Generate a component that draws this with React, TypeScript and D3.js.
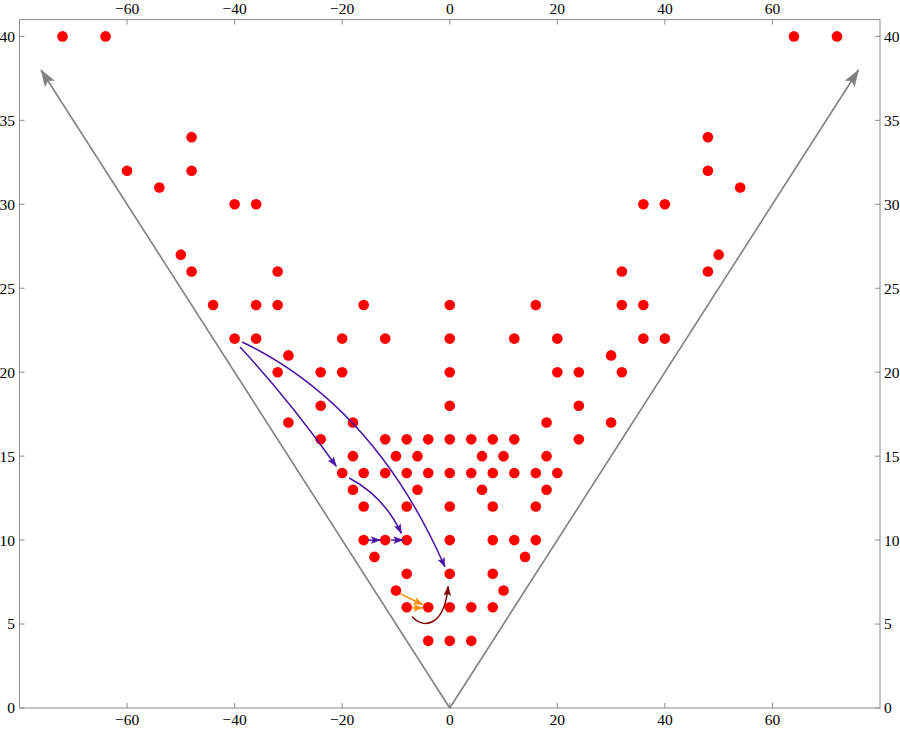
import React, { useEffect, useRef } from "react";
import * as d3 from "d3";

// lattice points, grouped by row (y) with their x values
const rows = [
  { y: 40, xs: [-72, -64, 64, 72] },
  { y: 34, xs: [-48, 48] },
  { y: 32, xs: [-60, -48, 48] },
  { y: 31, xs: [-54, 54] },
  { y: 30, xs: [-40, -36, 36, 40] },
  { y: 27, xs: [-50, 50] },
  { y: 26, xs: [-48, -32, 32, 48] },
  { y: 24, xs: [-44, -36, -32, -16, 0, 16, 32, 36] },
  { y: 22, xs: [-40, -36, -20, -12, 0, 12, 20, 36, 40] },
  { y: 21, xs: [-30, 30] },
  { y: 20, xs: [-32, -24, -20, 0, 20, 24, 32] },
  { y: 18, xs: [-24, 0, 24] },
  { y: 17, xs: [-30, -18, 18, 30] },
  { y: 16, xs: [-24, -12, -8, -4, 0, 4, 8, 12, 24] },
  { y: 15, xs: [-18, -10, -6, 6, 10, 18] },
  { y: 14, xs: [-20, -16, -12, -8, -4, 0, 4, 8, 12, 16, 20] },
  { y: 13, xs: [-18, -6, 6, 18] },
  { y: 12, xs: [-16, -8, 0, 8, 16] },
  { y: 10, xs: [-16, -12, -8, 0, 8, 12, 16] },
  { y: 9, xs: [-14, 14] },
  { y: 8, xs: [-8, 0, 8] },
  { y: 7, xs: [-10, 10] },
  { y: 6, xs: [-8, -4, 0, 4, 8] },
  { y: 4, xs: [-4, 0, 4] },
];

// the two cone edges
const coneArrows = [
  { from: [0, 0], to: [-76, 38] },
  { from: [0, 0], to: [76, 38] },
];

// transition arrows: start, optional control points, end
const moveArrows = [
  { color: "#4a12a3", from: [-38.6, 21.8], ctrl: [[-14, 18]], to: [-0.9, 8.4] },
  { color: "#4a12a3", from: [-39, 21.5], ctrl: [[-30, 18.4]], to: [-21.1, 14.4] },
  { color: "#4a12a3", from: [-18.7, 13.7], ctrl: [[-12.2, 12.6]], to: [-9.0, 10.4] },
  { color: "#4a12a3", from: [-15.2, 10], ctrl: [], to: [-12.9, 10] },
  { color: "#4a12a3", from: [-10.9, 10], ctrl: [], to: [-8.7, 10] },
  { color: "#ff8c00", from: [-9.15, 6.8], ctrl: [], to: [-5.0, 6.15] },
  { color: "#ff8c00", from: [-7.1, 5.95], ctrl: [], to: [-5.0, 5.97] },
  { color: "#800000", from: [-7.0, 5.45], ctrl: [[-5, 4.7], [-1, 4.8]], to: [-0.3, 7.25] },
];

const xTicks = [-60, -40, -20, 0, 20, 40, 60];
const yTicks = [0, 5, 10, 15, 20, 25, 30, 35, 40];

const fmt = (v: number) => (v < 0 ? "\u2212" + Math.abs(v) : String(v));

const App = () => {
  const svgRef = useRef<SVGSVGElement>(null);

  useEffect(() => {
    const svg = d3.select(svgRef.current);
    svg.selectAll("*").remove();

    const x = d3.scaleLinear().domain([-80, 80]).range([19.5, 880]);
    const y = d3.scaleLinear().domain([0, 41]).range([708, 19.6]);

    const frameColor = "#8c8c8c";
    const font = "Liberation Serif, DejaVu Serif, serif";

    // frame
    svg
      .append("rect")
      .attr("x", x(-80))
      .attr("y", y(41))
      .attr("width", x(80) - x(-80))
      .attr("height", y(0) - y(41))
      .attr("fill", "none")
      .attr("stroke", frameColor)
      .attr("stroke-width", 1);

    const tickLen = 5;
    const g = svg.append("g").attr("class", "ticks").style("font-family", font).style("font-size", "15.5px");

    // x ticks top & bottom
    xTicks.forEach((t) => {
      g.append("line")
        .attr("x1", x(t)).attr("x2", x(t))
        .attr("y1", y(0)).attr("y2", y(0) - tickLen)
        .attr("stroke", frameColor);
      g.append("line")
        .attr("x1", x(t)).attr("x2", x(t))
        .attr("y1", y(41)).attr("y2", y(41) + tickLen)
        .attr("stroke", frameColor);
      g.append("text")
        .attr("x", x(t)).attr("y", 725)
        .attr("text-anchor", "middle")
        .text(fmt(t));
      g.append("text")
        .attr("x", x(t)).attr("y", 14)
        .attr("text-anchor", "middle")
        .text(fmt(t));
    });

    // y ticks left & right
    yTicks.forEach((t) => {
      g.append("line")
        .attr("x1", x(-80)).attr("x2", x(-80) + tickLen)
        .attr("y1", y(t)).attr("y2", y(t))
        .attr("stroke", frameColor);
      g.append("line")
        .attr("x1", x(80)).attr("x2", x(80) - tickLen)
        .attr("y1", y(t)).attr("y2", y(t))
        .attr("stroke", frameColor);
      g.append("text")
        .attr("x", 15).attr("y", y(t))
        .attr("dy", "0.35em")
        .attr("text-anchor", "end")
        .text(fmt(t));
      g.append("text")
        .attr("x", 884).attr("y", y(t))
        .attr("dy", "0.35em")
        .attr("text-anchor", "start")
        .text(fmt(t));
    });

    // arrowhead: tip at p, pointing along dir (pixel space)
    const head = (p: number[], dir: number[], len: number, hw: number) => {
      const n = Math.hypot(dir[0], dir[1]);
      const ux = dir[0] / n, uy = dir[1] / n;
      const nx = -uy, ny = ux;
      const bx = p[0] - ux * len, by = p[1] - uy * len;
      const mx = p[0] - ux * len * 0.8, my = p[1] - uy * len * 0.8;
      return `M${p[0]},${p[1]}L${bx + nx * hw},${by + ny * hw}L${mx},${my}L${bx - nx * hw},${by - ny * hw}Z`;
    };

    const px = (d: number[]) => [x(d[0]), y(d[1])];

    const drawArrow = (
      a: { from: number[]; to: number[]; ctrl?: number[][] },
      color: string,
      width: number,
      len: number,
      hw: number
    ) => {
      const p0 = px(a.from);
      const p1 = px(a.to);
      const cs = (a.ctrl || []).map(px);
      const path = d3.path();
      path.moveTo(p0[0], p0[1]);
      if (cs.length === 0) path.lineTo(p1[0], p1[1]);
      else if (cs.length === 1) path.quadraticCurveTo(cs[0][0], cs[0][1], p1[0], p1[1]);
      else path.bezierCurveTo(cs[0][0], cs[0][1], cs[1][0], cs[1][1], p1[0], p1[1]);
      const last = cs.length ? cs[cs.length - 1] : p0;
      const dir = [p1[0] - last[0], p1[1] - last[1]];
      svg.append("path")
        .attr("d", path.toString())
        .attr("fill", "none")
        .attr("stroke", color)
        .attr("stroke-width", width);
      svg.append("path")
        .attr("d", head(p1, dir, len, hw))
        .attr("fill", color)
        .attr("stroke", color)
        .attr("stroke-width", 0.5)
        .attr("stroke-linejoin", "round");
    };

    coneArrows.forEach((a) => drawArrow(a, "#808080", 1.6, 16, 5.5));

    // points
    const pts = rows.flatMap((r) => r.xs.map((v) => [v, r.y]));
    svg
      .append("g")
      .selectAll("circle")
      .data(pts)
      .join("circle")
      .attr("cx", (d) => x(d[0]))
      .attr("cy", (d) => y(d[1]))
      .attr("r", 5.3)
      .attr("fill", "#ff0000");

    moveArrows.forEach((a) => drawArrow(a, a.color, 1.5, 9, 3.3));
  }, []);

  return (
    <svg
      ref={svgRef}
      width={900}
      height={729}
      style={{ position: "absolute", left: 0, top: 0, background: "#fff" }}
    />
  );
};

export default App;
